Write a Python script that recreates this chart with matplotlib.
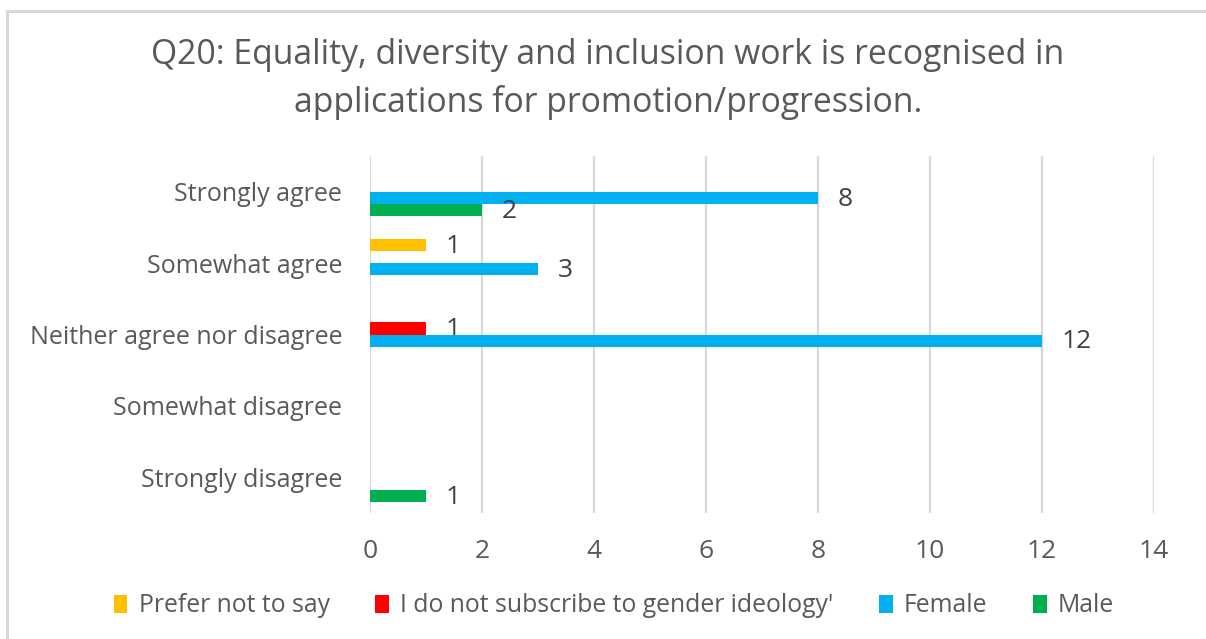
import numpy as np
import matplotlib
matplotlib.use("Agg")
import matplotlib.pyplot as plt
from matplotlib.patches import Rectangle

plt.rcParams['font.family'] = ['Open Sans', 'DejaVu Sans']

categories = ["Strongly agree", "Somewhat agree", "Neither agree nor disagree",
              "Somewhat disagree", "Strongly disagree"]
series_names = ["Prefer not to say", "I do not subscribe to gender ideology'",
                "Female", "Male"]
prefer_not = [0, 1, 0, 0, 0]
no_subscribe = [0, 0, 1, 0, 0]
female = [8, 3, 12, 0, 0]
male = [2, 0, 0, 0, 1]
colors = ["#FFC000", "#FF0000", "#00B0F0", "#00B050"]
x_ticks = [0, 2, 4, 6, 8, 10, 12, 14]

series = [prefer_not, no_subscribe, female, male]

fig = plt.figure(figsize=(12.06, 6.39), dpi=100)
ax = fig.add_axes([370 / 1206, 126 / 639, 784 / 1206, 357 / 639])

text_grey = "#595959"
label_grey = "#404040"
grid_grey = "#D9D9D9"

n = len(series)
bar_h = 0.171
y = np.arange(len(categories))
for i, (vals, name, col) in enumerate(zip(series, series_names, colors)):
    offs = (i - (n - 1) / 2) * bar_h
    bars = ax.barh(y + offs, vals, height=bar_h, color=col, label=name,
                   edgecolor="none", zorder=3)
    for b, v in zip(bars, vals):
        if v:
            ax.annotate(f"{v}", (b.get_width(), b.get_y() + b.get_height() / 2),
                        xytext=(14, -1), textcoords="offset points",
                        ha="left", va="center", fontsize=19, color=label_grey)

ax.set_ylim(len(categories) - 0.5, -0.5)
ax.set_xlim(0, 14)
ax.set_xticks(x_ticks)
ax.set_xticklabels([str(t) for t in x_ticks], fontsize=19, color=text_grey)
ax.set_yticks(y)
ax.set_yticklabels(categories, fontsize=18, color=text_grey)
ax.tick_params(length=0)
ax.tick_params(axis="x", pad=19)
ax.tick_params(axis="y", pad=20)
ax.grid(axis="x", color=grid_grey, linewidth=1.6, zorder=0)
for s in ax.spines.values():
    s.set_visible(False)

fig.text(0.504, 1 - 79 / 639,
         "Q20: Equality, diversity and inclusion work is recognised in\n"
         "applications for promotion/progression.",
         ha="center", va="center", fontsize=24.3, color=text_grey,
         linespacing=1.5)

fig.legend(loc="center", bbox_to_anchor=(0.509, 1 - 606 / 639), ncol=4,
           frameon=False, fontsize=17.8, handlelength=0.55, handleheight=0.7,
           handletextpad=0.45, columnspacing=1.85, labelcolor=text_grey)

# chart area border
fig.add_artist(Rectangle((6.5 / 1206, -0.1), 1.2, 1.1 - 11 / 639,
                         transform=fig.transFigure, fill=False,
                         edgecolor=grid_grey, linewidth=2.2))

fig.savefig("out.png", dpi=100, facecolor="white")
